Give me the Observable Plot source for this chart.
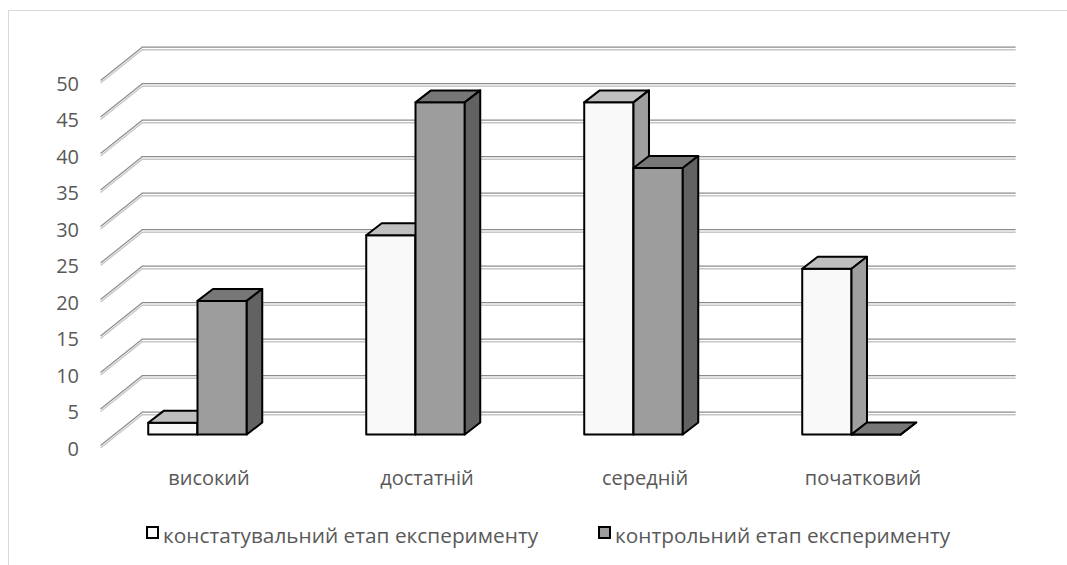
<!DOCTYPE html>
<html>
<head>
<meta charset="utf-8">
<script src="https://cdn.jsdelivr.net/npm/d3@7"></script>
<script src="https://cdn.jsdelivr.net/npm/@observablehq/plot@0.6"></script>
<style>
  html, body { margin: 0; padding: 0; background: #fff; overflow: hidden; }
  #wrap { position: relative; width: 1067px; height: 565px; overflow: hidden; font-family: "Open Sans", sans-serif; }
  #border { position: absolute; left: 8px; top: 10px; width: 1200px; height: 800px; border-left: 1px solid #d9d9d9; border-top: 1px solid #d9d9d9; }
  #chart { position: absolute; left: 0; top: 0; }
  .item { position: absolute; top: 0; height: 30px; }
  .sw { position: absolute; top: 4px; left: 0; width: 13px; height: 13px; box-sizing: border-box; border: 2px solid #000; }
  .lbl { position: absolute; left: 17px; top: 3px; font-size: 20.8px; line-height: 20px; color: #595959; white-space: nowrap; }
  #legend { position: absolute; left: 0; top: 522px; width: 1067px; height: 30px; }
</style>
</head>
<body>
<div id="wrap">
  <div id="border"></div>
  <div id="chart"></div>
  <div id="legend"></div>
</div>
<script>
// ---- data ----
const categories = ["високий", "достатній", "середній", "початковий"];
const seriesNames = ["констатувальний етап експерименту", "контрольний етап експерименту"];
const constatValues = [1.6, 27.3, 45.5, 22.7];
const controlValues = [18.3, 45.5, 36.5, 0];
const yTicks = [0, 5, 10, 15, 20, 25, 30, 35, 40, 45, 50];

// ---- styles ----
const seriesStyle = [
  { front: "#f9f9f9", top: "#bfbfbf", side: "#9f9f9f" },
  { front: "#9d9d9d", top: "#777777", side: "#626262" }
];
const textColor = "#595959";

// ---- 3D layout constants (in scale units) ----
const barW = 0.226;      // bar width (x units)
const dX = 0.071;        // bar depth, horizontal
const dY = 1.64;         // bar depth, vertical
const wallFrontX = 0.053, wallBackX = 0.244, wallBackRightX = 4.253;
const wallFrontDy = -1.44, wallBackDy = 3.12;

const series = [constatValues, controlValues];

const barMarks = [];
categories.forEach((c, i) => {
  series.forEach((vals, s) => {
    const v = vals[i];
    const xl = i + 0.5 - barW + s * barW;
    const xr = xl + barW;
    const st = seriesStyle[s];
    const common = { x: "x", y1: "y1", y2: "y2", stroke: "#000", strokeWidth: 2, strokeLinejoin: "round", curve: "linear" };
    const front = [{ x: xl, y1: 0, y2: v }, { x: xr, y1: 0, y2: v }];
    const top = [
      { x: xl, y1: v, y2: v },
      { x: xl + dX, y1: v, y2: v + dY },
      { x: xr, y1: v, y2: v + dY },
      { x: xr + dX, y1: v + dY, y2: v + dY }
    ];
    const side = [{ x: xr, y1: 0, y2: v }, { x: xr + dX, y1: dY, y2: v + dY }];
    barMarks.push(Plot.areaY(front, { ...common, fill: st.front }));
    barMarks.push(Plot.areaY(top, { ...common, fill: st.top }));
    barMarks.push(Plot.areaY(side, { ...common, fill: st.side }));
  });
});

const chart = Plot.plot({
  width: 1067,
  height: 510,
  marginLeft: 88.5,
  marginRight: 106.5,
  marginTop: 69.5,
  marginBottom: 75.5,
  x: { type: "linear", domain: [0, 4], axis: null },
  y: { type: "linear", domain: [0, 50], axis: null },
  style: { fontFamily: '"Open Sans", sans-serif', background: "transparent", color: textColor },
  marks: [
    // back wall gridlines (double line look)
    Plot.ruleY(yTicks, { y: d => d + wallBackDy, x1: wallBackX, x2: wallBackRightX, stroke: "#8c8c8c", strokeWidth: 1.2 }),
    Plot.ruleY(yTicks, { y: d => d + wallBackDy, x1: wallBackX, x2: wallBackRightX, stroke: "#c6c6c6", strokeWidth: 1.4, dy: 2.5 }),
    // side wall gridlines
    Plot.link(yTicks, { x1: wallFrontX, y1: d => d + wallFrontDy, x2: wallBackX, y2: d => d + wallBackDy, stroke: "#8c8c8c", strokeWidth: 1.2 }),
    Plot.link(yTicks, { x1: wallFrontX, y1: d => d + wallFrontDy, x2: wallBackX, y2: d => d + wallBackDy, stroke: "#c6c6c6", strokeWidth: 1.4, dy: 2.5 }),
    ...barMarks,
    Plot.axisY({ ticks: yTicks, anchor: "left", tickSize: 0, tickPadding: 10, dy: 14.5, fontSize: 20, fill: textColor, label: null }),
    Plot.axisX({ ticks: categories.map((c, i) => i + 0.5), tickFormat: d => categories[Math.floor(d)], anchor: "bottom", tickSize: 0, tickPadding: 36, dx: 11, fontSize: 20, fill: textColor, label: null })
  ]
});
document.getElementById("chart").appendChild(chart);

// legend
const legend = document.getElementById("legend");
const legendLeft = [146, 598];
seriesNames.forEach((name, s) => {
  const item = document.createElement("div");
  item.className = "item";
  item.style.left = legendLeft[s] + "px";
  const sw = document.createElement("div");
  sw.className = "sw";
  sw.style.background = seriesStyle[s].front;
  const lbl = document.createElement("div");
  lbl.className = "lbl";
  lbl.textContent = name;
  item.appendChild(sw);
  item.appendChild(lbl);
  legend.appendChild(item);
});
</script>
</body>
</html>
